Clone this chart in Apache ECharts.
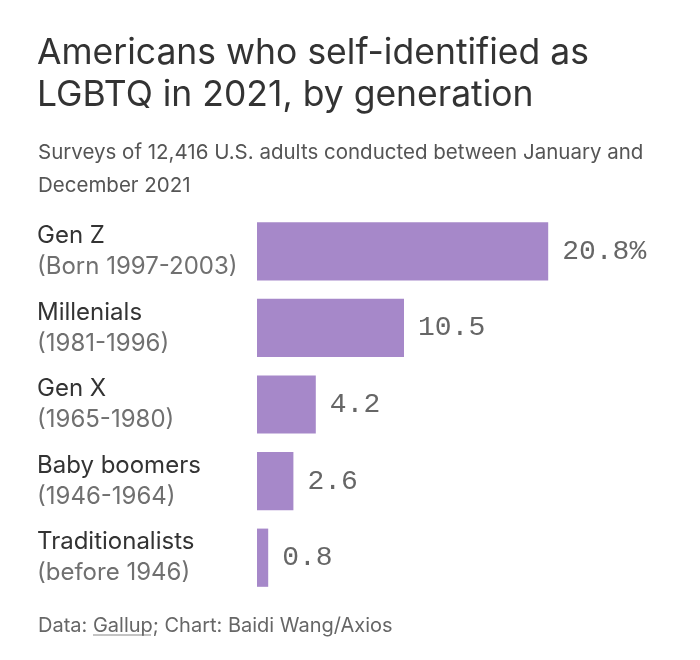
<!DOCTYPE html>
<html>
<head>
<meta charset="utf-8">
<script src="https://cdn.jsdelivr.net/npm/echarts@6/dist/echarts.min.js"></script>
<style>
html,body{margin:0;padding:0;background:#fff;}
#chart{width:700px;height:660px;}
</style>
</head>
<body>
<div id="chart"></div>
<script>
var generations = ['Gen Z', 'Millenials', 'Gen X', 'Baby boomers', 'Traditionalists'];
var birthYears = ['(Born 1997-2003)', '(1981-1996)', '(1965-1980)', '(1946-1964)', '(before 1946)'];
var lgbtqShare = [20.8, 10.5, 4.2, 2.6, 0.8];

var titleText = 'Americans who self-identified as\nLGBTQ in 2021, by generation';
var subtitleText = 'Surveys of 12,416 U.S. adults conducted between January and\nDecember 2021';
var sourceText = '{n|Data: }{u|Gallup}{n|; Chart: Baidi Wang/Axios}';

var FONT = 'Inter';
var chart = echarts.init(document.getElementById('chart'));
var categories = generations.map(function (g, i) { return g + '\n' + birthYears[i]; });

chart.setOption({
  animation: false,
  backgroundColor: '#ffffff',
  title: [
    {
      text: titleText, left: 32, top: 27,
      textStyle: { fontFamily: FONT, fontSize: 35.5, fontWeight: 'normal', color: '#333333', lineHeight: 42 }
    },
    {
      text: subtitleText, left: 33, top: 131,
      textStyle: { fontFamily: FONT, fontSize: 20.5, fontWeight: 'normal', color: '#555555', lineHeight: 33 }
    },
    {
      text: sourceText, left: 33, top: 611,
      textStyle: {
        fontFamily: FONT, fontSize: 20, fontWeight: 'normal', color: '#666666',
        rich: {
          n: { fontFamily: FONT, fontSize: 20, color: '#666666' },
          u: { fontFamily: FONT, fontSize: 20, color: '#666666' }
        }
      }
    }
  ],
  graphic: [{
    type: 'line', shape: { x1: 93, y1: 635, x2: 151, y2: 635 },
    style: { stroke: '#888888', lineWidth: 1 }, silent: true
  }],
  grid: { left: 257, right: 23, top: 213, height: 383, containLabel: false },
  xAxis: {
    type: 'value', min: 0, max: 30, show: false
  },
  yAxis: {
    type: 'category', data: categories, inverse: true,
    axisLine: { show: false }, axisTick: { show: false }, splitLine: { show: false },
    axisLabel: {
      align: 'left', margin: 220,
      formatter: function (v) {
        var parts = v.split('\n');
        return '{a|' + parts[0] + '}\n{b|' + parts[1] + '}';
      },
      rich: {
        a: { fontFamily: FONT, fontSize: 24, color: '#333333', lineHeight: 31 },
        b: { fontFamily: FONT, fontSize: 24, color: '#707070', lineHeight: 31 }
      }
    }
  },
  series: [{
    type: 'bar',
    data: lgbtqShare,
    barCategoryGap: '24%',
    itemStyle: { color: '#a688c9' },
    label: {
      show: true, position: 'right', distance: 14,
      fontFamily: 'Liberation Mono', fontSize: 28, color: '#666666',
      formatter: function (p) { return p.dataIndex === 0 ? p.value + '%' : String(p.value); }
    }
  }]
});
</script>
</body>
</html>
